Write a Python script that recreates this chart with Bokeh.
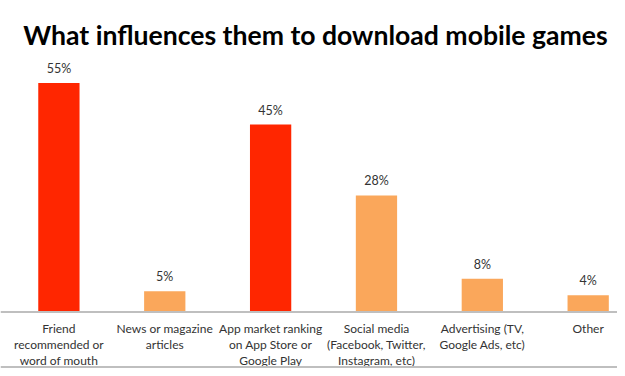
from bokeh.plotting import figure
from bokeh.models import ColumnDataSource, Range1d, Span
from bokeh.core.properties import value
from bokeh.embed import file_html
from bokeh.resources import INLINE

# ---- data ----
categories = [
    "Friend\nrecommended or\nword of mouth",
    "News or magazine\narticles",
    "App market ranking\non App Store or\nGoogle Play",
    "Social media\n(Facebook, Twitter,\nInstagram, etc)",
    "Advertising (TV,\nGoogle Ads, etc)",
    "Other",
]
percent = [55, 5, 45, 28, 8, 4]
highlight = [True, False, True, False, False, False]
title_text = "What influences them to download mobile games"

RED = "#FF2600"
ORANGE = "#FAA75B"
TEXT = "#333333"
FONT = "Lato"

xs = list(range(len(categories)))
colors = [RED if h else ORANGE for h in highlight]
labels = [f"{v}%" for v in percent]

src = ColumnDataSource(dict(x=xs, top=percent, color=colors, label=labels,
                            cat=categories, zero=[0] * len(xs)))

p = figure(width=617, height=368, output_backend="svg", toolbar_location=None,
           x_range=Range1d(-0.5517, 5.277), y_range=Range1d(-13.57, 74.81),
           min_border=0, min_border_left=0, min_border_right=0,
           min_border_top=0, min_border_bottom=0)
p.axis.visible = False
p.grid.visible = False
p.outline_line_color = None
p.background_fill_color = "white"
p.border_fill_color = "white"

p.vbar(x="x", top="top", bottom=0, width=0.39, color="color", line_color=None, source=src)

# baseline axis line
p.add_layout(Span(location=0, dimension="width", line_color="#BFBFBF", line_width=2))
# bottom border line
p.add_layout(Span(location=-13.2, dimension="width", line_color="#BFBFBF", line_width=2))

# value labels
p.text(x="x", y="top", text="label", source=src, text_align="center",
       text_baseline="bottom", y_offset=-7, text_font=value(FONT),
       text_font_size="12.5px", text_color=TEXT)

# category labels
p.text(x="x", y="zero", text="cat", source=src, text_align="center",
       text_baseline="top", y_offset=9.5, text_font=value(FONT),
       text_font_size="12px", text_color=TEXT, text_line_height=1.04)

# title
p.text(x=[2.424], y=[66.64], text=[title_text], text_align="center",
       text_baseline="alphabetic", text_font=value(FONT), text_font_style="bold",
       text_font_size="26.6px", text_color="#000000")

open("out.html", "w").write(file_html(p, INLINE))
